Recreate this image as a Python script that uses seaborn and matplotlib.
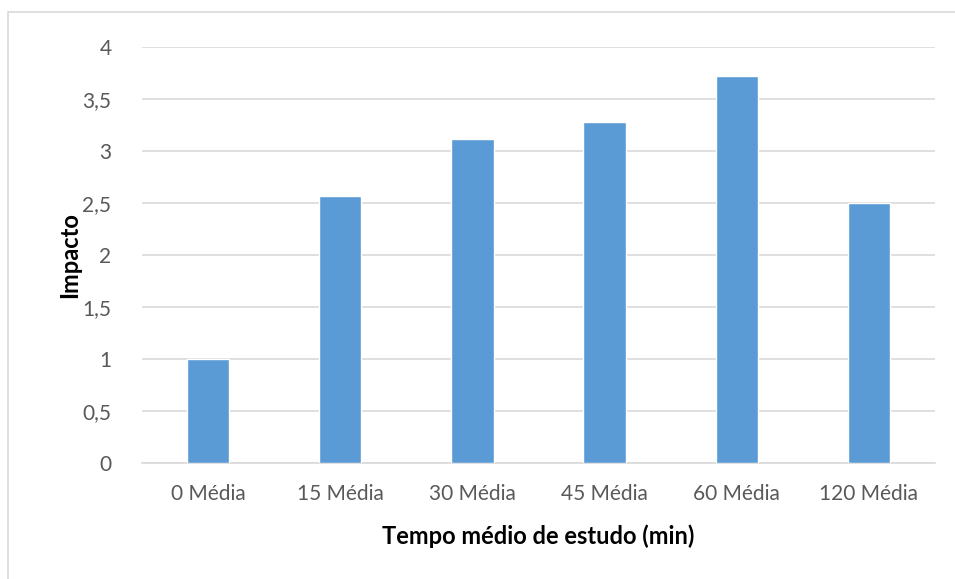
import matplotlib.pyplot as plt
import matplotlib.patches as mpatches
import pandas as pd
import seaborn as sns

sns.set_theme(style="white")
plt.rcParams["font.family"] = ["Lato", "DejaVu Sans"]

categorias = ["0 Média", "15 Média", "30 Média", "45 Média", "60 Média", "120 Média"]
impacto = [1.0, 2.57, 3.12, 3.28, 3.72, 2.5]

df = pd.DataFrame({"Tempo": categorias, "Impacto": impacto})

fig = plt.figure(figsize=(9.55, 5.79), dpi=100)
ax = fig.add_axes([0.1487, 0.2003, 0.979 - 0.1487, 0.9188 - 0.2003])

# moldura do gráfico
fig.patches.append(mpatches.Rectangle((8 / 955, -0.01), 1.0, 1 - 12 / 579 + 0.01,
                                      transform=fig.transFigure, fill=False,
                                      edgecolor="#d9d9d9", linewidth=1.2))

sns.barplot(data=df, x="Tempo", y="Impacto", color="#5b9bd5", width=0.32,
            saturation=1, ax=ax, zorder=3)

ax.set_ylim(0, 4)
ax.set_yticks([0, 0.5, 1, 1.5, 2, 2.5, 3, 3.5, 4])
ax.set_yticklabels(["0", "0,5", "1", "1,5", "2", "2,5", "3", "3,5", "4"])
ax.yaxis.grid(True, color="#d9d9d9", linewidth=1.2, zorder=0)
ax.set_axisbelow(True)
for s in ["top", "right", "left"]:
    ax.spines[s].set_visible(False)
ax.spines["bottom"].set_color("#d9d9d9")
ax.spines["bottom"].set_linewidth(1.2)
ax.tick_params(axis="both", length=0, labelsize=15, labelcolor="#595959")
ax.tick_params(axis="y", pad=22)
ax.tick_params(axis="x", pad=15)
ax.set_xlabel("Tempo médio de estudo (min)", fontsize=17, fontweight="bold",
              color="black", labelpad=15)
ax.set_ylabel("Impacto", fontsize=17, fontweight="bold", color="black", labelpad=1)

fig.savefig("out.png", dpi=100)
